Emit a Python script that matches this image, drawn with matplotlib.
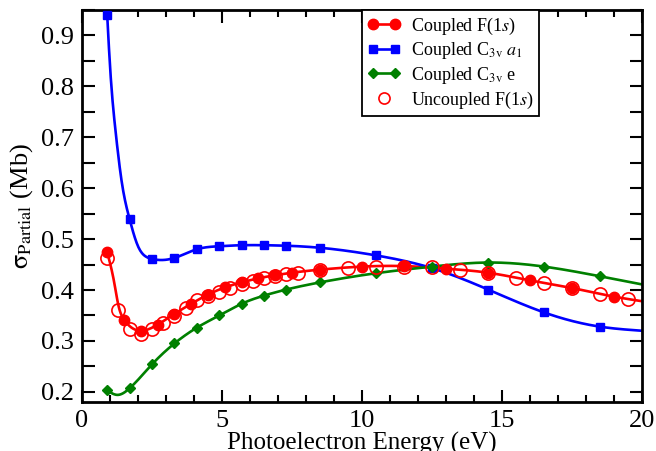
import numpy as np
import matplotlib
matplotlib.use("Agg")
import matplotlib.pyplot as plt
from matplotlib.lines import Line2D
from matplotlib.legend_handler import HandlerLine2D
from matplotlib.ticker import MultipleLocator

plt.rcParams['font.family'] = ['Liberation Serif', 'DejaVu Serif']
plt.rcParams['mathtext.fontset'] = 'stix'

# ---- data ----
# Coupled F(1s): markers
f1s_x = [0.9, 1.5, 2.1, 2.7, 3.3, 3.9, 4.5, 5.1, 5.7, 6.3, 6.9, 7.5, 8.5, 10.0, 11.5, 13.0, 14.5, 16.0, 17.5, 19.0]
f1s_y = [0.474, 0.342, 0.320, 0.332, 0.353, 0.373, 0.391, 0.405, 0.415, 0.423, 0.429, 0.434, 0.440, 0.446, 0.447, 0.442, 0.434, 0.419, 0.404, 0.387]
# Coupled F(1s): curve
f1s_line_x = [0.9, 1.15, 1.3, 1.5, 1.8, 2.1, 2.7, 3.3, 3.9, 4.5, 5.1, 5.7, 6.3, 6.9, 7.5, 8.5, 10.0, 11.5, 13.0, 14.5, 16.0, 17.5, 19.0, 20.0]
f1s_line_y = [0.474, 0.415, 0.370, 0.342, 0.325, 0.320, 0.332, 0.353, 0.373, 0.391, 0.405, 0.415, 0.423, 0.429, 0.434, 0.440, 0.446, 0.447, 0.442, 0.434, 0.419, 0.404, 0.387, 0.378]

# Coupled C3v a1: markers
a1_x = [0.9, 1.7, 2.5, 3.3, 4.1, 4.9, 5.7, 6.5, 7.3, 8.5, 10.5, 12.5, 14.5, 16.5, 18.5]
a1_y = [0.940, 0.539, 0.461, 0.463, 0.480, 0.486, 0.488, 0.488, 0.487, 0.483, 0.468, 0.443, 0.401, 0.356, 0.328]
# Coupled C3v a1: curve
a1_line_x = [0.9, 1.0, 1.2, 1.42, 1.7, 2.0, 2.3, 2.5, 2.9, 3.3, 4.1, 4.9, 5.7, 6.5, 7.3, 8.5, 10.5, 12.5, 14.5, 16.5, 18.5, 20.0]
a1_line_y = [0.940, 0.840, 0.711, 0.612, 0.539, 0.486, 0.465, 0.461, 0.459, 0.463, 0.480, 0.486, 0.488, 0.488, 0.487, 0.483, 0.468, 0.443, 0.401, 0.356, 0.328, 0.320]

# Coupled C3v e: markers
e_x = [0.9, 1.7, 2.5, 3.3, 4.1, 4.9, 5.7, 6.5, 7.3, 8.5, 10.5, 12.5, 14.5, 16.5, 18.5]
e_y = [0.203, 0.207, 0.254, 0.295, 0.326, 0.350, 0.373, 0.389, 0.401, 0.415, 0.433, 0.446, 0.454, 0.446, 0.427]
# Coupled C3v e: curve
e_line_x = [0.9, 1.25, 1.7, 2.5, 3.3, 4.1, 4.9, 5.7, 6.5, 7.3, 8.5, 10.5, 12.5, 14.5, 16.5, 18.5, 20.0]
e_line_y = [0.203, 0.194, 0.207, 0.254, 0.295, 0.326, 0.350, 0.373, 0.389, 0.401, 0.415, 0.433, 0.446, 0.454, 0.446, 0.427, 0.411]

# Uncoupled F(1s): open circles
unc_x = [0.9, 1.3, 1.7, 2.1, 2.5, 2.9, 3.3, 3.7, 4.1, 4.5, 4.9, 5.3, 5.7, 6.1, 6.5, 6.9, 7.3, 7.7,
         8.5, 9.5, 10.5, 11.5, 12.5, 13.5, 14.5, 15.5, 16.5, 17.5, 18.5, 19.5]
unc_y = [0.462, 0.360, 0.323, 0.313, 0.323, 0.336, 0.348, 0.364, 0.380, 0.389, 0.396, 0.404, 0.412, 0.417,
         0.423, 0.428, 0.432, 0.434, 0.439, 0.444, 0.446, 0.446, 0.445, 0.439, 0.434, 0.423, 0.414, 0.403,
         0.393, 0.383]

labels = [r'Coupled F(1$s$)', r'Coupled C$_{\mathrm{3v}}$ $a_1$', r'Coupled C$_{\mathrm{3v}}$ e', r'Uncoupled F(1$s$)']
xticks = [0, 5, 10, 15, 20]
yticks = [0.2, 0.3, 0.4, 0.5, 0.6, 0.7, 0.8, 0.9]


def smooth(xk, yk, n=600):
    x = np.asarray(xk, float); y = np.asarray(yk, float)
    m = len(x); h = np.diff(x)
    A = np.zeros((m, m)); r = np.zeros(m)
    A[0, 0] = A[-1, -1] = 1.0
    for i in range(1, m - 1):
        A[i, i - 1] = h[i - 1]; A[i, i] = 2 * (h[i - 1] + h[i]); A[i, i + 1] = h[i]
        r[i] = 3 * ((y[i + 1] - y[i]) / h[i] - (y[i] - y[i - 1]) / h[i - 1])
    c = np.linalg.solve(A, r)
    b = (y[1:] - y[:-1]) / h - h * (2 * c[:-1] + c[1:]) / 3
    d = (c[1:] - c[:-1]) / (3 * h)
    xs = np.linspace(x[0], x[-1], n)
    idx = np.clip(np.searchsorted(x, xs) - 1, 0, m - 2)
    dx = xs - x[idx]
    return xs, y[idx] + b[idx] * dx + c[idx] * dx ** 2 + d[idx] * dx ** 3


fig = plt.figure(figsize=(6.56, 4.51), dpi=100)
ax = fig.add_axes([0.125, 0.1086, 0.8537, 0.8692])

red, blue, green = '#ff0000', '#0000ff', '#008000'
lw = 1.9

xs, ys = smooth(f1s_line_x, f1s_line_y)
ax.plot(xs, ys, color=red, lw=lw, zorder=2)
ax.plot(f1s_x, f1s_y, 'o', color=red, ms=7.5, mec=red, zorder=3)

xs, ys = smooth(a1_line_x, a1_line_y)
ax.plot(xs, ys, color=blue, lw=lw, zorder=2)
ax.plot(a1_x, a1_y, 's', color=blue, ms=6, mec=blue, zorder=3)

xs, ys = smooth(e_line_x, e_line_y)
ax.plot(xs, ys, color=green, lw=lw, zorder=2)
ax.plot(e_x, e_y, 'D', color=green, ms=5, mec=green, zorder=3)

ax.plot(unc_x, unc_y, 'o', mfc='none', mec=red, mew=1.2, ms=9.5, zorder=4)

ax.set_xlim(0, 20)
ax.set_ylim(0.18, 0.95)
ax.set_xticks(xticks)
ax.set_yticks(yticks)
ax.xaxis.set_minor_locator(MultipleLocator(1))
ax.yaxis.set_minor_locator(MultipleLocator(0.05))
ax.tick_params(which='both', direction='in', top=True, right=True, width=1.5, labelsize=19, pad=6)
ax.tick_params(which='major', length=9)
ax.tick_params(axis='x', which='minor', length=5)
ax.tick_params(axis='y', which='minor', length=9)
ax.set_xticklabels([str(t) for t in xticks])
ax.set_yticklabels([f'{t:.1f}' for t in yticks])
for s in ax.spines.values():
    s.set_linewidth(2)

ax.set_xlabel('Photoelectron Energy (eV)', fontsize=18, labelpad=0)
ax.set_ylabel(r'$\mathrm{σ}_{\mathrm{Partial}}$ (Mb)', fontsize=19, labelpad=4)

h1 = Line2D([], [], color=red, lw=lw, marker='o', ms=7.5)
h2 = Line2D([], [], color=blue, lw=lw, marker='s', ms=6)
h3 = Line2D([], [], color=green, lw=lw, marker='D', ms=5)
h4 = Line2D([], [], ls='none', marker='o', mfc='none', mec=red, mew=1.2, ms=8)
leg = ax.legend([h1, h2, h3, h4], labels, loc='upper left', bbox_to_anchor=(0.5, 1.0),
                borderaxespad=0, numpoints=2, handlelength=1.8, handletextpad=0.6,
                labelspacing=0.2, borderpad=0.3, fontsize=13, fancybox=False, framealpha=1,
                edgecolor='black', handler_map={h4: HandlerLine2D(numpoints=1)})
leg.get_frame().set_linewidth(1.3)

fig.savefig('out.png', dpi=100)
